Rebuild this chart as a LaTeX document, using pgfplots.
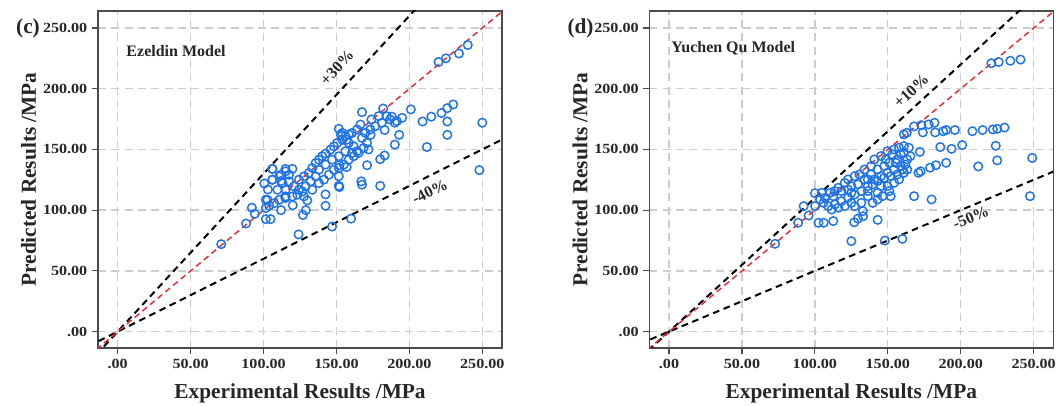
\documentclass[border=0pt]{standalone}
\usepackage{pgfplots}
\pgfplotsset{compat=1.18}
\usepackage{pgfplotstable}
\usepackage{fontspec}
\setmainfont{Liberation Serif}
\newfontfamily\tickfont[FakeStretch=1.15]{Liberation Serif}
\definecolor{ptblue}{RGB}{30,115,232}
\definecolor{refred}{RGB}{228,45,55}
\definecolor{gridgray}{RGB}{205,205,205}

\pgfplotstableread{
x y
71 72
88 89
92 102
94 97
101.6 92.6
104.8 92.6
101.6 108.5
103 117
106 134
100.5 122
115 134
119.8 134
106 125
112 100
115 110
120 104
124 80
127 96
129 100
130 108
142.5 103.6
142.5 113
147 86.5
151.6 128
151.6 120
157 135.5
160 93
151.6 167
153 162
167.5 180.7
167 123.7
167.5 121
172 150
173.4 162
174 174.7
180 120
180 142
183 145
182 183.7
183 166
190 154
193 162
190 172
195 176
201 183
209 173
215 177
212 152
222 180
226 184
230 187
226 173
226 162
250 172
248 133
220 222
225 225
234 229
240 236
106.1 125.1
110.7 127.8
115.2 132
106.1 133.9
113 122.3
117.5 123.7
109.5 116.8
115.2 116.8
120.9 119.6
124.3 125.1
127.7 127.8
131.1 130.6
133.4 134.7
135.7 138.8
138 141.6
140.2 144.4
142.5 146.6
145.9 149.9
148.2 152.6
150.5 155.4
153.9 158.1
156.1 160.9
158.4 162.3
160.7 163.6
164.1 166.4
166.4 170.5
153.9 163.6
158.4 155.4
161.8 152.6
164.1 148.5
160.7 147.1
156.1 148.5
151.6 144.4
147 141.6
142.5 137.5
138 133.3
135.7 127.8
132.3 123.7
128.9 119.6
126.6 115.4
123.2 112.7
119.8 111.3
115.2 111.3
110.7 108.5
107.3 105.8
103.9 103.6
101.6 101.7
102.7 108.5
124.3 116.8
127.7 111.3
133.4 116.8
138 122.3
141.4 125.1
144.8 129.2
148.2 133.3
151.6 134.7
155 137.5
158.4 141.6
161.8 144.4
165.2 147.1
168.6 151.2
170.9 155.4
167.5 159.5
169.8 163.6
173.2 166.4
176.6 169.1
181.1 171.9
178.9 177.4
184.5 177.4
186.8 174.7
191.4 173.3
111.8 129.2
117.5 129.2
112 124
157 158
152 137
152 119
171 137
188 177
}\leftdata

\pgfplotstableread{
x y
72.7 72.3
88.5 89.6
92.3 103.3
95.7 95.6
100 114
102.5 89.6
106 89.6
112.6 91
125 74.5
127 90
129.5 93
133 95
143 92
148 75
160 76.4
152 111.5
168 111.5
180 108.8
171 130.8
172.5 132
179 135
183 137
190 139
186 152
193.7 150.5
201 153.6
212 136
224 153
225 141
249 143
247.5 111.5
221 221
226 222
234 223
241 224
161 162.4
163 163.7
168 169
173 170
178 170.6
182 172
174 164
182.5 164
188 165
190 166
196 166
208 165
215 166
222 166.5
225 167
230 168
172 148
100.2 103.3
103.6 108.8
107 110.2
110.4 114.3
113.7 115.7
116 118.4
120.5 122.5
122.7 125.3
127.3 128
130.6 129.4
134 133.5
138.5 136.3
140.8 141.8
145.3 144.5
149.8 148.6
154.3 150
157.7 151.4
161 147.3
163.3 141.8
158.8 136.3
154.3 133.5
149.8 130.8
145.3 128
140.8 125.3
136.3 119.8
131.8 115.7
127.3 112.9
122.7 110.2
118.2 107.4
113.7 104.7
109.2 103.3
120.5 103.3
125 106
131.8 106
136.3 111.5
143 114.3
136.3 125.3
129.5 121.2
147.5 136.3
156.5 141.8
161 130.8
163.3 133.5
152 128
156.5 129.4
145.3 119.8
143 108.8
148.6 141.8
153 146
158.8 146
155.4 139
151 139
161 152.7
164.4 151.4
165.5 144.5
162 137.6
160 133.5
143 133.5
138.5 129.4
134 125.3
125 119.8
118.2 115.7
112.6 111.5
105.9 106
111.5 100.5
116 102
127.3 103.3
132.9 99.2
139.6 106
146.4 111.5
149.8 119.8
154.3 122.5
157.7 125.3
151 115.7
122.7 117
125 114.3
136.3 115.7
139.6 121.2
143 124
147.5 126.6
104.7 114.3
}\rightdata

\pgfplotsset{
  panel/.style={
    scale only axis,
    width=303pt, height=252.75pt,
    xmin=-13.5, xmax=263.5, ymin=-13.5, ymax=264,
    xtick={0,50,100,150,200,250},
    ytick={0,50,100,150,200,250},
    xticklabels={.00,50.00,100.00,150.00,200.00,250.00},
    yticklabels={.00,50.00,100.00,150.00,200.00,250.00},
    tick label style={font=\tickfont\bfseries\fontsize{10.5}{12}\selectfont, text=black!85},
    xtick pos=bottom, ytick pos=left,
    tick align=outside, major tick length=4.5pt,
    tick style={black!70, line width=0.9pt},
    axis line style={black!70, line width=1.2pt},
    grid=major,
    major grid style={gridgray, dash pattern=on 6pt off 4pt, line width=1pt},
    label style={font=\bfseries\fontsize{16}{18}\selectfont, text=black!85},
    xlabel style={at={(axis description cs:0.5,-0.1484)}, anchor=base},
    ylabel style={at={(axis description cs:-0.1535,0.5)}, anchor=base, rotate=0},
    xlabel={Experimental Results /MPa},
    ylabel={Predicted Results /MPa},
  },
  pts/.style={only marks, mark=o, mark size=3.2pt, ptblue, mark options={line width=1.1pt}},
  bound/.style={black, line width=1.5pt, dash pattern=on 5pt off 3.5pt},
  ident/.style={refred, line width=1.1pt, dash pattern=on 4.5pt off 3pt},
}

\begin{document}
\begin{tikzpicture}
\useasboundingbox (0,0) rectangle (796.5pt,304.5pt);

\begin{axis}[panel, at={(73.5pt,43.5pt)}, anchor=south west]
\addplot[bound] coordinates {(-20,-26) (300,390)};
\addplot[bound] coordinates {(-20,-12) (300,180)};
\addplot[ident] coordinates {(-20,-20) (300,300)};
\addplot[pts] table[x=x,y=y] {\leftdata};
\node[font=\bfseries\fontsize{12}{14}\selectfont, text=black!85] at (axis cs:40,231) {Ezeldin Model};
\node[font=\bfseries\fontsize{12}{14}\selectfont, text=black!85, rotate=47] at (axis cs:150.4,217.4) {+30\%};
\node[font=\bfseries\fontsize{12}{14}\selectfont, text=black!85, rotate=26.5] at (axis cs:214,115) {-40\%};
\end{axis}

\begin{axis}[panel, at={(487pt,43.5pt)}, anchor=south west]
\addplot[bound] coordinates {(-20,-22) (300,330)};
\addplot[bound] coordinates {(-20,-10) (300,150)};
\addplot[ident] coordinates {(-20,-20) (300,300)};
\addplot[pts] table[x=x,y=y] {\rightdata};
\node[font=\bfseries\fontsize{12}{14}\selectfont, text=black!85] at (axis cs:44,233.5) {Yuchen Qu Model};
\node[font=\bfseries\fontsize{12}{14}\selectfont, text=black!85, rotate=42.7] at (axis cs:166,198) {+10\%};
\node[font=\bfseries\fontsize{12}{14}\selectfont, text=black!85, rotate=22.7] at (axis cs:207,94) {-50\%};
\end{axis}

\node[font=\bfseries\fontsize{16}{18}\selectfont, text=black!85] at (21pt,283.5pt) {(c)};
\node[font=\bfseries\fontsize{16}{18}\selectfont, text=black!85] at (435.4pt,283.5pt) {(d)};
\end{tikzpicture}
\end{document}
